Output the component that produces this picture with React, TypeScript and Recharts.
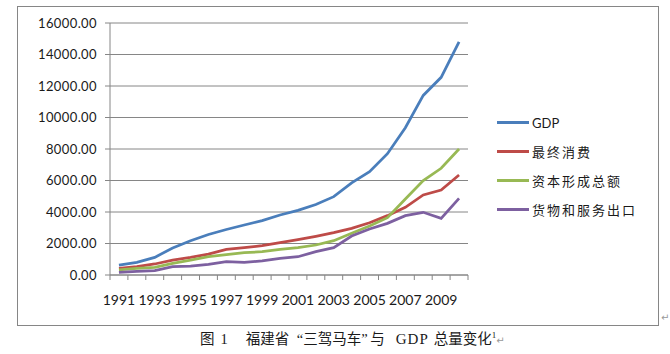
import React from 'react';
import { LineChart, Line, XAxis, YAxis, CartesianGrid, Legend } from 'recharts';

const years = [1991, 1992, 1993, 1994, 1995, 1996, 1997, 1998, 1999, 2000, 2001, 2002, 2003, 2004, 2005, 2006, 2007, 2008, 2009, 2010];
const gdp = [630, 805, 1120, 1720, 2170, 2570, 2890, 3175, 3450, 3810, 4100, 4480, 4975, 5850, 6560, 7700, 9350, 11400, 12550, 14800];
const consumption = [425, 530, 700, 950, 1120, 1330, 1630, 1735, 1860, 2050, 2240, 2455, 2690, 2960, 3320, 3770, 4300, 5080, 5400, 6350];
const capital = [320, 420, 490, 740, 950, 1160, 1300, 1420, 1480, 1630, 1735, 1905, 2180, 2650, 3110, 3640, 4825, 5990, 6775, 8000];
const exports = [170, 235, 275, 530, 570, 680, 850, 800, 890, 1060, 1160, 1480, 1735, 2475, 2920, 3280, 3770, 3980, 3600, 4870];

const seriesNames = ['GDP', '最终消费', '资本形成总额', '货物和服务出口'];
const yTicks = [0, 2000, 4000, 6000, 8000, 10000, 12000, 14000, 16000];
const labelYears = [1991, 1993, 1995, 1997, 1999, 2001, 2003, 2005, 2007, 2009];
const boundaries = [1990.5, ...years.map(y => y + 0.5)];
const xTicks = [...boundaries, ...labelYears].sort((a, b) => a - b);

const data = years.map((year, i) => ({
  year,
  gdp: gdp[i],
  consumption: consumption[i],
  capital: capital[i],
  exports: exports[i],
}));

const AXIS = '#868686';
const FONT = "Lato, 'Noto Sans CJK SC', sans-serif";

// tick marks sit between the years, labels on every other year
const XTick = (props: any) => {
  const { x, y, payload } = props;
  if (payload.value % 1 !== 0) {
    return <line x1={x} x2={x} y1={y} y2={y + 5} stroke={AXIS} />;
  }
  return (
    <text x={x} y={y + 30} textAnchor="middle" fontSize={14} fill="#1a1a1a" fontFamily={FONT}>
      {payload.value}
    </text>
  );
};

const LegendBox = (props: any) => {
  const items = [...(props.payload || [])].sort(
    (a: any, b: any) => seriesNames.indexOf(a.value) - seriesNames.indexOf(b.value)
  );
  return (
    <div style={{ fontFamily: FONT, fontSize: 13, color: '#1a1a1a' }}>
      {items.map((entry: any, i: number) => (
        <div key={i} style={{ display: 'flex', alignItems: 'center', height: 29 }}>
          <div style={{ width: 32, height: 3, background: entry.color }} />
          <span style={{ marginLeft: 3, letterSpacing: entry.value === 'GDP' ? 0 : 2 }}>{entry.value}</span>
        </div>
      ))}
    </div>
  );
};

export default function App() {
  return (
    <div style={{ position: 'absolute', left: 0, top: 0, width: 670, height: 354, background: '#fff' }}>
      <div style={{ position: 'absolute', left: 17, top: 6, width: 642, height: 320, boxSizing: 'border-box', border: `1px solid ${AXIS}` }} />
      <div style={{ position: 'absolute', left: 0, top: 0 }}>
        <LineChart width={670} height={330} data={data} margin={{ top: 23, right: 202, bottom: 15, left: 50 }}>
          <CartesianGrid vertical={false} stroke={AXIS} strokeWidth={1} />
          <XAxis
            dataKey="year"
            type="number"
            domain={[1990.5, 2010.5]}
            ticks={xTicks}
            interval={0}
            height={40}
            tickSize={0}
            tickMargin={0}
            tickLine={false}
            stroke={AXIS}
            tick={<XTick />}
          />
          <YAxis
            domain={[0, 16000]}
            ticks={yTicks}
            width={60}
            tickSize={5}
            tickMargin={8}
            stroke={AXIS}
            tickFormatter={(v: number) => v.toFixed(2)}
            tick={{ fontSize: 13, fill: '#1a1a1a', fontFamily: FONT, letterSpacing: 0.4 }}
          />
          <Legend
            layout="vertical"
            align="center"
            verticalAlign="middle"
            wrapperStyle={{ left: 497, top: 108, width: 170 }}
            content={<LegendBox />}
          />
          <Line type="linear" dataKey="gdp" name="GDP" stroke="#4A7EBB" strokeWidth={2.75} dot={false} isAnimationActive={false} />
          <Line type="linear" dataKey="consumption" name="最终消费" stroke="#BE4B48" strokeWidth={2.75} dot={false} isAnimationActive={false} />
          <Line type="linear" dataKey="capital" name="资本形成总额" stroke="#98B954" strokeWidth={2.75} dot={false} isAnimationActive={false} />
          <Line type="linear" dataKey="exports" name="货物和服务出口" stroke="#7D60A0" strokeWidth={2.75} dot={false} isAnimationActive={false} />
        </LineChart>
      </div>
      <div style={{ position: 'absolute', left: 661, top: 312, fontSize: 10, color: '#999', fontFamily: 'DejaVu Sans' }}>↵</div>
      <div
        style={{
          position: 'absolute',
          left: 200,
          top: 327,
          fontSize: 14.5,
          color: '#1a1a1a',
          fontFamily: "'Liberation Serif', 'Noto Sans CJK SC', serif",
          whiteSpace: 'pre',
        }}
      >
        <span>图</span>
        <span style={{ marginLeft: 6 }}>1</span>
        <span style={{ marginLeft: 18 }}>福建省</span>
        <span style={{ display: 'inline-block', width: 14, textAlign: 'right' }}>“</span>
        <span>三驾马车</span>
        <span style={{ display: 'inline-block', width: 9 }}>”</span>
        <span>与</span>
        <span style={{ marginLeft: 11, fontSize: 15, letterSpacing: 1 }}>GDP</span>
        <span style={{ marginLeft: 5 }}>总量变化</span>
        <sup style={{ fontSize: 9 }}>1</sup>
        <span style={{ fontSize: 10, color: '#999', fontFamily: 'DejaVu Sans' }}>↵</span>
      </div>
    </div>
  );
}
